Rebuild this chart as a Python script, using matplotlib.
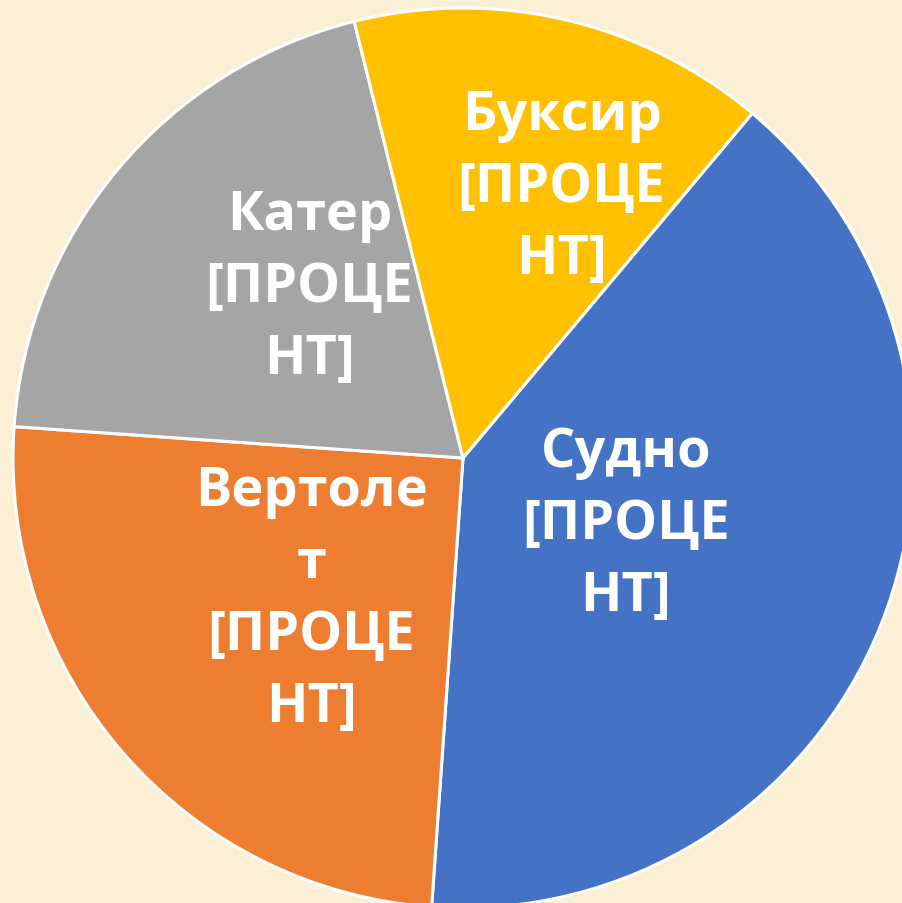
import numpy as np
import matplotlib.pyplot as plt

# Slice data (clockwise order, Excel default palette).
categories = ['Судно', 'Вертолет', 'Катер', 'Буксир']
values = [40, 25, 20, 15]
labels = ['Судно\n[ПРОЦЕ\nНТ]', 'Вертоле\nт\n[ПРОЦЕ\nНТ]',
          'Катер\n[ПРОЦЕ\nНТ]', 'Буксир\n[ПРОЦЕ\nНТ]']
colors = ['#4472C4', '#ED7D31', '#A5A5A5', '#FFC000']

# Label placement: distance from centre (fraction of radius) and angle tweak.
label_r = [0.39, 0.46, 0.51, 0.64]
label_dang = [0, 2, -8, -7]

fig = plt.figure(figsize=(9.02, 9.04), dpi=100)
fig.patch.set_facecolor('#FBEFD6')
ax = fig.add_axes([0, 0, 1, 1])
ax.set_facecolor('#FBEFD6')

wedges, _ = ax.pie(values, colors=colors, startangle=50, counterclock=False,
                   radius=1.0, wedgeprops=dict(edgecolor='white', linewidth=2.2))

for w, lab, r, da in zip(wedges, labels, label_r, label_dang):
    mid = np.deg2rad((w.theta1 + w.theta2) / 2 + da)
    ax.text(r * np.cos(mid), r * np.sin(mid), lab, ha='center', va='center',
            color='white', fontsize=39, fontweight='bold', family='Open Sans',
            linespacing=1.44)

# Pie centre at (463, 459) px with radius 450 px.
ax.set_xlim(-463 / 450, (902 - 463) / 450)
ax.set_ylim(-(904 - 459) / 450, 459 / 450)
ax.set_aspect('equal')
ax.axis('off')

plt.savefig('out.png', dpi=100, facecolor=fig.get_facecolor())
plt.close(fig)
